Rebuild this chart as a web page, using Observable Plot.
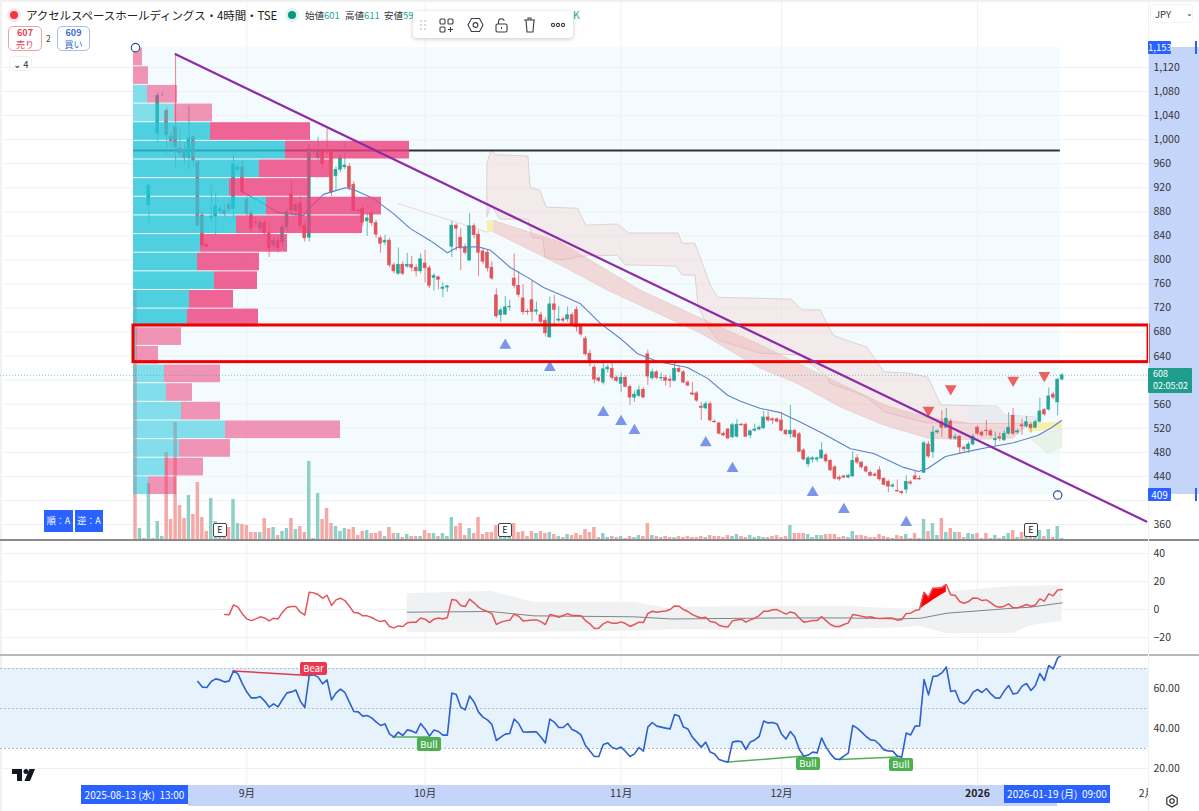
<!DOCTYPE html>
<html lang="ja"><head><meta charset="utf-8">
<script src="https://cdn.jsdelivr.net/npm/d3@7"></script>
<script src="https://cdn.jsdelivr.net/npm/@observablehq/plot@0.6"></script>
<style>
html,body{margin:0;padding:0;background:#fff;overflow:hidden}
#chart{position:relative;width:1199px;height:811px;overflow:hidden;font-family:"Noto Sans CJK JP","Noto Sans",sans-serif;color:#131722}
.a{position:absolute;box-sizing:border-box;white-space:nowrap}
.e{width:14px;height:14px;background:#fff;border:1.3px solid #444;border-radius:2px;font-size:9px;line-height:11px;text-align:center;top:523px;color:#222}
</style></head><body><div id="chart"></div>
<script>
// ---------- candles (JPY, one value per 4h bar) ----------
const open=[null,null,null,891,null,1010,1075,1048,1005,1020,
985,982,969,1004,962,874,825,869,872,881,
882,891,885,950,954,900,877,862,852,861,
844,824,832,829,854,909,881,894,857,837,
981,970,979,982,979,939,950,954,955,925,
882,885,864,877,861,836,829,832,791,777,
792,789,792,787,781,794,786,770,771,752,
754,822,857,837,821,799,856,842,814,812,
787,741,708,709,721,769,757,736,714,733,
714,708,699,671,726,699,701,701,708,717,
689,669,644,621,603,596,618,619,604,594,
604,589,571,574,584,643,603,613,603,604,
601,599,619,613,596,578,578,556,553,560,
531,528,511,518,505,506,526,526,508,516,
518,520,538,535,535,533,516,510,516,510,
483,460,468,468,470,475,466,455,438,440,
438,440,470,463,455,446,443,450,436,431,
423,416,414,418,430,440,436,446,493,480,
513,530,521,531,503,506,488,485,493,521,
513,516,515,500,505,500,511,541,513,525,
523,526,521,531,550,551,576,563,601];
const close=[null,null,null,924,null,1073,1075,1007,997,987,
977,969,1002,965,857,824,822,872,889,884,
876,884,959,954,914,877,852,861,861,844,
819,832,819,854,879,882,891,857,836,985,
983,979,960,979,912,950,969,957,920,882,
881,862,869,861,842,827,832,791,781,792,
777,792,787,781,801,786,757,773,767,754,
756,857,852,819,812,856,841,812,797,786,
769,706,716,721,722,757,742,713,713,713,
716,697,678,726,717,701,699,708,693,688,
676,643,628,601,599,618,621,604,599,604,
589,571,576,583,571,606,613,604,604,599,
599,619,614,596,591,576,566,554,560,533,
530,511,508,503,525,526,525,506,515,518,
521,538,533,533,531,516,510,516,505,481,
468,470,470,470,483,465,450,436,435,438,
441,466,463,455,448,441,441,435,426,423,
425,415,412,431,428,435,435,495,473,513,
515,521,536,503,505,488,485,493,506,511,
508,515,508,502,503,511,521,511,515,523,
530,520,530,548,543,573,571,601,608];
const high=[null,null,null,924,null,1078,1078,1053,1012,1142,
1020,995,1056,1007,965,880,826,924,910,890,
892,900,974,960,965,905,882,870,866,866,
861,838,836,860,885,932,900,905,862,992,
986,1004,985,1018,985,955,975,994,960,930,
886,890,877,882,866,840,841,836,795,820,
797,811,806,792,810,816,790,777,773,762,
758,864,860,852,826,877,860,848,820,817,
797,752,720,739,733,810,781,759,718,765,
730,713,704,738,741,722,705,722,712,722,
693,673,650,625,605,632,625,632,607,612,
607,592,582,590,588,650,618,616,612,608,
606,628,624,616,599,596,581,563,564,564,
534,530,514,520,528,535,528,529,517,527,
524,548,547,537,537,546,518,558,518,513,
486,473,473,472,496,478,468,458,441,442,
444,481,476,465,458,449,446,456,438,434,
428,434,416,441,433,448,441,498,498,523,
517,549,553,535,510,508,491,497,510,524,
516,533,518,514,512,516,546,553,518,535,
540,530,533,570,553,587,580,603,611];
const low=[null,null,null,861,null,994,1072,974,985,954,
970,960,949,955,855,821,820,861,841,875,
870,878,869,945,907,872,845,855,845,840,
804,818,812,820,848,875,872,850,830,830,
975,965,950,975,905,915,945,950,915,876,
876,855,839,856,836,811,824,787,777,775,
774,786,780,772,777,762,752,748,750,737,
746,804,815,782,808,797,835,772,792,780,
766,703,696,707,715,752,737,708,708,697,
708,692,672,671,690,695,695,696,690,680,
672,640,622,594,596,592,612,600,596,579,
587,558,563,571,570,591,600,601,598,590,
587,597,612,594,589,574,563,533,551,530,
528,509,506,501,503,504,523,505,503,514,
516,518,530,526,529,514,508,503,503,480,
466,455,462,463,468,462,448,434,432,436,
436,438,460,452,446,439,439,432,424,413,
421,413,409,411,425,433,433,446,470,470,
510,505,520,500,500,478,481,478,491,508,
505,507,505,490,498,498,509,508,510,508,
520,512,519,529,540,549,568,541,599];
const volume=[250,12,2,57,2,19,4,88,21,118,
35,22,45,26,58,23,9,42,19,13,
7,13,41,17,16,15,8,8,8,22,
12,13,5,9,12,22,11,14,8,79,
2,47,21,32,17,14,9,12,11,13,
5,9,10,7,7,9,4,13,7,7,
3,6,4,4,4,10,7,7,4,7,
4,23,14,17,5,12,7,23,6,8,
8,15,10,10,8,17,8,9,4,9,
7,9,7,8,6,4,3,6,5,7,
5,11,8,13,3,7,3,4,3,4,
2,4,3,5,4,17,5,4,3,4,
3,3,4,3,4,3,3,4,3,5,
4,4,3,5,4,6,4,3,5,3,
4,3,3,4,5,3,4,15,7,7,
7,6,3,5,5,6,6,6,3,4,
3,9,5,5,4,3,3,6,4,3,
2,5,4,6,2,7,2,21,9,17,
5,22,8,12,8,8,3,7,6,7,
2,7,2,5,2,4,7,10,3,8,
5,5,5,10,4,11,3,14,2];
const maBar=[23.6,28.7,31.9,34.1,37.7,39.7,42.2,44.4,47.1,48.9,53.4,57.9,61.7,66.2,70,72.3,76.8,79.7,84.2,88,91.6,95.4,99.9,104.4,108.9,112.7,117.2,123.9,128.4,132.9,135.8,140.3,144.8,149.3,154.4,160.5,165.7,172.4,175.8,177.8,181.8,185.9,191.2,197.1,202.5,205.4,207.9];
const maPrice=[915,894,879,877,874,891,909,914,920,917,902,877,852,832,812,821,822,816,787,771,754,742,727,694,669,644,631,621,603,575,565,553,546,530,511,486,478,455,448,453,473,480,488,496,508,520,533];
// ---------- cloud edges ----------
const cloudTopBar=[79,79.9,81,88.2,88.7,90.9,92.3,99.4,101.2,108.2,110.9,121.9,122.8,125.7,129.3,130.9,147.3,149.7,153.8,156.7,159.6,164.3,168.1,173.7,178,180.9,193.5,195.3,202,202.9];
const cloudTopPrice=[960,982,974,972,920,915,887,885,857,859,844,844,827,827,754,737,734,716,716,674,666,654,613,611,604,558,556,541,538,528];
const cloudBotBar=[79,79.9,81.9,88.2,89.1,91.6,92,95.4,101.2,108.2,110,121.4,122.8,125.7,126.4,128.8,130.9,140.3,149.3,155.6,156,162.1,164.3,168.4,177.8,186.8,194.2,200.9,202.9,202.9];
const cloudBotPrice=[871,891,867,867,837,834,804,799,806,807,791,789,774,774,721,686,666,644,641,603,594,578,571,546,528,528,528,528,528,528];
const bandTopBar=[80.4,95.4,113.4,126.8,140.3,155.6,168.4,171.7,177.8,186.8,194.2,200.4];
const bandTopPrice=[865,829,749,703,658,603,558,550,538,528,528,528];
const bandBotBar=[80.4,95.4,106,126.8,140.3,148.6,158.2,167.9,177.8,186.8,197.1,200.4];
const bandBotPrice=[846,791,749,678,619,594,555,525,503,500,503,525];
const grayBar=[186.8,193.5,195.3,202,202.9];
const grayTop=[556,556,541,538,528];
const grayBot=[528,528,528,528,528];
const yellowBar=[200.4,204,208];
const yellowTop=[528,529,530];
const yellowBot=[513,516,520];
const yellowStartBar=[79,80.4];
const yellowStartTop=[865,865];
const yellowStartBot=[846,846];
const greenBar=[200.9,204.7,208];
const greenTop=[504,512,520];
const greenBot=[503,478,488];
const faintBar=[58.8,79];
const faintPrice=[894,846];
// ---------- volume profile (top row first) ----------
const profileTop=1153, profileStep=31;
const profileBuy=[0,0,14,41,77,152,126,96,133,103,67,64,81,56,54,3,3,31,33,48,92,46,32,15];
const profileSell=[9,15,30,38,100,124,71,81,115,126,87,62,43,44,71,45,22,56,26,39,115,51,38,28];
const lightRows=[0,1,2,3,15,16,17,18,19,20,21,22,23];
// ---------- signals ----------
const buyBar=[83,93,105,109,112,128,134,152,159,173];
const buyPrice=[658,621,546,531,516,496,453,413,385,363];
const sellBar=[178,183,197,204];
const sellPrice=[550,586,600,608];
const trendBar=[9,226.9], trendPrice=[1142,365];
const levelPrice=982, lastPrice=608;
const boxBar=[-0.45,227.4], boxPrice=[630,691];
const anchorBar=[0,207], anchorPrice=[1153,409];
// ---------- ticks ----------
const priceTicks=d3.range(360,1121,40);
const priceLabels=priceTicks.filter(t=>t!==400&&t!==600); // those two sit behind the price tags
const cmfTicks=[40,20,0,-20];
const rsiTicks=[60,40,20];
const monthBars=[25,65,109,145,227], monthLabels=["9月","10月","11月","12月","2月"];
const yearBar=189, yearLabel="2026";
// ---------- CMF ----------
const cmfStart=20;
const cmf=[-3.6,-3.8,3.3,1.7,-3.1,-6.7,-7.9,-6.7,-5.2,-6,
-8.1,-6.2,-6.7,-1.9,1.4,2.1,2.1,-1.9,-4,12.4,
11.9,10.7,8.1,10.2,2.9,6.9,8.1,6.4,2.4,-2.1,
-2.4,-4.5,-4.5,-5.7,-7.4,-8.6,-7.9,-12.1,-13.1,-11.7,
-12.1,-9.5,-9,-9,-6,-6.9,-9.3,-6.9,-6,-6.7,
-5.7,7.1,6.7,2.9,2.1,7.4,4.8,1.7,-.2,-1.4,
-2.9,-10.7,-9,-8.1,-7.6,-3.3,-4.8,-8.1,-7.9,-7.4,
-7.4,-8.6,-10.7,-3.6,-4.3,-5.5,-4.3,-2.9,-4.3,-4.3,
-4.5,-7.9,-10.2,-13.6,-13.3,-10.2,-8.6,-9.8,-9.8,-8.8,
-10,-12.1,-10.7,-9,-9.3,-2.9,-1.2,-1.9,-1.4,-1,
0,2.6,2.4,0,-1.4,
-3.6,-5,-6,-5.5,-8.6,-9,-11.2,-12.1,-12.4,-8.1,
-7.4,-6.9,-9,-7.4,-6.2,-4.3,-1.2,-1.2,-.2,0,
-1.7,-3.3,-1.7,-2.6,-6,-9,-8.6,-7.9,-7.9,-5,
-7.9,-10.7,-12.1,-12.1,-10.7,-9.5,-3.6,-4,-4.8,-5.5,
-5.2,-6,-6.4,-6.2,-6,-6.2,-7.6,-7.1,-2.9,-2.6,
-.7,0,12.4,8.8,15.2,15.2,15.7,17.9,10.5,10,
5.7,4.5,5.7,8.3,8.1,6.4,6.9,4.8,2.4,1.7,
2.4,4,1.2,1.2,2.4,3.6,2.4,3.3,7.6,6,
11.2,9.8,14,14.3];
const cmfBandBar=[61,79.7,89.4,111.9,120,122.3,144.8,159.7,170.9,176.2,182.2,197.2,201,208];
const cmfSignal=[-1.9,-1.4,-4.5,-5.2,-6.7,-6.7,-6,-6,-6.7,-6.2,-2.6,1,1.7,4.8];
const cmfUpper=[11.2,13.1,5.2,5.2,.5,1.7,2.1,2.1,.5,.5,12.4,16.7,16.7,17.1];
const cmfLower=[-16.2,-16.2,-16.2,-15.5,-14.5,-14.5,-15,-14,-13.1,-12.1,-17.4,-16.9,-11.4,-8.6];
const breachBar=[176,177,178,179,180,181,182];
const breachBase=[0,2.4,4.4,6.6,8.6,10.6,12.4];
const breachCmf=[0,12.4,8.8,15.2,15.2,15.7,17.9];
// ---------- RSI ----------
const rsiStart=14;
const rsi=[63.5,60.7,60.5,63.5,64.8,64.3,63.3,63.7,68.8,67.3,
62.3,58.2,55.3,55.3,56,53.7,50.7,52.3,50.8,54.5,
57.8,58.3,59.2,53.7,50.5,66.5,66.8,65.7,62.3,64.3,
54.3,57.7,59.7,58,53.2,48.5,48.3,46.2,46.5,45.3,
43.3,41.5,42.3,37.3,35.7,38.2,36.5,39.3,38.8,37.8,
42.5,39.8,36.2,39.2,38.5,36.7,36.7,57.7,57,50.7,
49.3,56.3,53.3,48.2,45.7,44.3,42,34,35.7,37.2,
37.5,44.7,42.5,38.3,38.2,38.3,38.3,35.7,32.8,44.7,
43.2,40.5,40.5,42.5,39.5,38.5,36.8,31.5,28.7,26,
26,32,32.8,30.5,29.8,30.7,28.5,26,27.3,30.5,
28.7,40.7,43,41.2,40.7,40.2,39.8,47,46.2,40.7,
39.7,35.7,33.2,30.7,33.2,28.2,27.3,24.5,23.7,23.2,33.2,
33.7,33.5,29.5,33.3,34.3,36,43.7,42.8,43,42.3,
37.3,34.7,38.5,35.7,29.5,26.2,26.7,28.2,27.8,35.3,
30.7,27.3,24.8,24.5,26.2,27.7,41.5,40.2,38.2,36,
34.3,34,32,29.3,28.8,28.7,26.2,25.7,37.7,36.8,
41.2,41.3,64.5,56.8,66,66.3,67.8,70.7,58.5,59,
53.5,52.3,54.3,58.2,59.5,58,60,57.3,55.3,55.2,
58.7,61.5,57.2,57.8,61.2,62.5,59,61.5,67.5,64,
71.5,69.8,75.3,76.8];
const rsiLevels=[70,50,30];
const bearBar=[21.9,38.9], bearRsi=[68.8,66.5];
const bull1Bar=[57.8,65.8], bull1Rsi=[35.7,35.7];
const bull2Bar=[133,150], bull2Rsi=[23.2,26.2];
const bull3Bar=[158,171], bull3Rsi=[24.5,25.7];

// ---------- assemble rows ----------
const UP="#26a69a", DOWN="#e0555a";
const bars=d3.range(open.length).map(i=>({i,open:open[i],high:high[i],low:low[i],close:close[i],vol:volume[i],
  color:close[i]==null?null:(close[i]>=open[i]?UP:DOWN)}));
const candles=bars.filter(d=>d.open!=null);
const volRows=bars.map(d=>({i:d.i,vol:d.vol,color:d.color?(d.color===UP?"#8fd0c6":"#f5a8a6"):(d.i===0?"#f5a8a6":"#8fd0c6")}));
const pts=(xs,ys)=>xs.map((x,k)=>({x,y:ys[k]}));
const twoEdge=(a,b,c,d)=>a.map((_,k)=>({x1:a[k],y1:b[k],x2:c[k],y2:d[k]}));
const rng=(xs,t,b)=>xs.map((x,k)=>({x,y1:t[k],y2:b[k]}));
const profile=profileBuy.map((b,k)=>({top:profileTop-profileStep*k,bot:profileTop-profileStep*(k+1),buy:b,sell:profileSell[k],light:lightRows.includes(k)}));
const cmfRows=cmf.map((v,k)=>({x:cmfStart+k,y:v}));
const rsiRows=rsi.map((v,k)=>({x:rsiStart+k,y:v}));

const FONT='"Noto Sans CJK JP","Noto Sans",sans-serif';
const style={position:"absolute",left:0,top:0,background:"transparent",overflow:"visible",fontFamily:FONT};
const base={width:1199,height:811,marginLeft:0,marginRight:51,style,x:{domain:[0,208],range:[135,1061.64],axis:null}};
const mainY={marginTop:0,marginBottom:271,y:{domain:[333.4,1231.4],axis:null}};
const gridStroke="#eff1f5";
const gridBars=[25,65,109,145,189];
const rootEl=document.getElementById("chart");
const add=o=>rootEl.appendChild(o);

// helper for HTML chrome
function box(css,html=""){const d=document.createElement("div");d.className="a";d.style.cssText=css;d.innerHTML=html;rootEl.appendChild(d);return d;}

// under-layer chrome
box("left:1148px;top:47px;width:51px;height:447px;background:#c5d5fa");
box("left:188px;top:785px;width:869px;height:21px;background:#c5d5fa");
box("left:0;top:0;width:1199px;height:2px;background:#f0f0f0");
box("left:0;top:0;width:2px;height:811px;background:#f2f2f2");

// main price layer
add(Plot.plot({...base,...mainY,color:{type:"identity"},marks:[
  Plot.rect([0],{x1:-0.45,x2:207.6,y1:409,y2:1153,fill:"#f4fbfe"}),
  Plot.gridY(priceTicks,{stroke:gridStroke,strokeOpacity:1}),
  Plot.gridX(gridBars,{stroke:gridStroke,strokeOpacity:1}),
  Plot.area(twoEdge(cloudTopBar,cloudTopPrice,cloudBotBar,cloudBotPrice),{x1:"x1",y1:"y1",x2:"x2",y2:"y2",fill:"#efd9d8",fillOpacity:.5,stroke:"#d3c4c4",strokeWidth:.7}),
  Plot.area(twoEdge(bandTopBar,bandTopPrice,bandBotBar,bandBotPrice),{x1:"x1",y1:"y1",x2:"x2",y2:"y2",fill:"#eda9a9",fillOpacity:.42,stroke:"#e2bcbc",strokeWidth:.5}),
  Plot.areaY(rng(grayBar,grayTop,grayBot),{x:"x",y1:"y1",y2:"y2",fill:"#e9ebee",fillOpacity:.9}),
  Plot.areaY(rng(yellowBar,yellowTop,yellowBot),{x:"x",y1:"y1",y2:"y2",fill:"#f6efae"}),
  Plot.areaY(rng(yellowStartBar,yellowStartTop,yellowStartBot),{x:"x",y1:"y1",y2:"y2",fill:"#f6efae"}),
  Plot.areaY(rng(greenBar,greenTop,greenBot),{x:"x",y1:"y1",y2:"y2",fill:"#e7f3e9",stroke:"#d6e7da",strokeWidth:.6}),
  Plot.line(pts(faintBar,faintPrice),{x:"x",y:"y",stroke:"#ecd6cf",strokeWidth:1}),
  Plot.ruleY([levelPrice],{x1:-0.45,x2:207.6,stroke:"#2f3236",strokeWidth:2}),
  Plot.ruleX(candles,{x:"i",y1:"low",y2:"high",stroke:"color",strokeWidth:.9,strokeOpacity:.8}),
  Plot.rect(candles,{x1:d=>d.i-.33,x2:d=>d.i+.33,y1:"open",y2:"close",fill:"color",stroke:"color",strokeWidth:.6}),
  Plot.line(pts(maBar,maPrice),{x:"x",y:"y",stroke:"#5b82c6",strokeWidth:1.1}),
  Plot.dot(pts(buyBar,buyPrice),{x:"x",y:"y",symbol:"triangle",r:4.4,fill:"#7b95ea"}),
  Plot.dot(pts(sellBar,sellPrice),{x:"x",y:"y",symbol:"triangle",r:4.4,rotate:180,fill:"#ef615c"})
]}));

// volume layer
add(Plot.plot({...base,marginTop:0,marginBottom:271,y:{domain:[0,540],axis:null},color:{type:"identity"},marks:[
  Plot.rect(volRows,{x1:d=>d.i-.39,x2:d=>d.i+.39,y1:0,y2:"vol",fill:"color"})
]}));

// volume profile layer: its own horizontal volume scale
add(Plot.plot({...base,...mainY,x:{domain:[0,1066],range:[133,1199],axis:null},marks:[
  Plot.rect(profile,{filter:d=>d.buy>0,x1:0,x2:"buy",y1:"bot",y2:"top",insetTop:.5,insetBottom:.5,fill:"#26c6da",fillOpacity:d=>d.light?.55:.8}),
  Plot.rect(profile,{x1:"buy",x2:d=>d.buy+d.sell,y1:"bot",y2:"top",insetTop:.5,insetBottom:.5,fill:"#ec407a",fillOpacity:d=>d.light?.55:.8})
]}));

// annotations + price axis
add(Plot.plot({...base,...mainY,marks:[
  Plot.ruleY([lastPrice],{x1:-30.3,x2:227.4,stroke:"#26a69a",strokeOpacity:.55,strokeDasharray:"1,2"}),
  Plot.rect([0],{x1:boxBar[0],x2:boxBar[1],y1:boxPrice[0],y2:boxPrice[1],fill:"none",stroke:"#ee0000",strokeWidth:3}),
  Plot.line(pts(trendBar,trendPrice),{x:"x",y:"y",stroke:"#8e2ba6",strokeWidth:2.2}),
  Plot.dot(pts(anchorBar,anchorPrice),{x:"x",y:"y",r:4.2,fill:"#fff",stroke:"#2b5296",strokeWidth:1.2}),
  Plot.axisY(priceLabels,{anchor:"right",tickSize:0,tickPadding:5,label:null,tickFormat:d3.format(","),fontSize:10.5,fill:"#333"})
]}));

// CMF panel
add(Plot.plot({...base,marginTop:541,marginBottom:158,y:{domain:[-31.4,48.6],axis:null},marks:[
  Plot.gridY(cmfTicks,{stroke:gridStroke,strokeOpacity:1}),
  Plot.gridX(gridBars,{stroke:gridStroke,strokeOpacity:1}),
  Plot.areaY(rng(cmfBandBar,cmfUpper,cmfLower),{x:"x",y1:"y1",y2:"y2",fill:"#f0f1f2"}),
  Plot.line(pts(cmfBandBar,cmfSignal),{x:"x",y:"y",stroke:"#808489",strokeWidth:1}),
  Plot.areaY(rng(breachBar,breachCmf,breachBase),{x:"x",y1:"y1",y2:"y2",fill:"#ff0000"}),
  Plot.line(cmfRows,{x:"x",y:"y",stroke:"#e4545c",strokeWidth:1.5}),
  Plot.axisY(cmfTicks,{anchor:"right",tickSize:0,tickPadding:5,label:null,fontSize:10.5,fill:"#333"})
]}));

// RSI panel + time axis
add(Plot.plot({...base,marginTop:655,marginBottom:25,y:{domain:[11,76.5],axis:null},marks:[
  Plot.rect([0],{x1:-30.3,x2:227.4,y1:30,y2:70,fill:"#e6f3fd"}),
  Plot.gridY(rsiTicks,{stroke:gridStroke,strokeOpacity:1}),
  Plot.gridX(gridBars,{stroke:gridStroke,strokeOpacity:1}),
  Plot.ruleY(rsiLevels,{x1:-30.3,x2:227.4,stroke:"#b4b9c4",strokeDasharray:"2,2"}),
  Plot.line(pts(bearBar,bearRsi),{x:"x",y:"y",stroke:"#e0394f",strokeWidth:1.5}),
  Plot.line(pts(bull1Bar,bull1Rsi),{x:"x",y:"y",stroke:"#55ad5b",strokeWidth:1.5}),
  Plot.line(pts(bull2Bar,bull2Rsi),{x:"x",y:"y",stroke:"#55ad5b",strokeWidth:1.5}),
  Plot.line(pts(bull3Bar,bull3Rsi),{x:"x",y:"y",stroke:"#55ad5b",strokeWidth:1.5}),
  Plot.line(rsiRows,{x:"x",y:"y",stroke:"#2f60d0",strokeWidth:1.6}),
  Plot.axisY(rsiTicks,{anchor:"right",tickSize:0,tickPadding:5,label:null,tickFormat:d3.format(".2f"),fontSize:10.5,fill:"#333"}),
  Plot.axisX(monthBars,{anchor:"bottom",tickSize:0,tickPadding:3,label:null,tickFormat:(d)=>monthLabels[monthBars.indexOf(d)],fontSize:10.5,fill:"#333"}),
  Plot.axisX([yearBar],{anchor:"bottom",tickSize:0,tickPadding:3,label:null,tickFormat:()=>yearLabel,fontSize:10.5,fontWeight:700,fill:"#222"})
]}));

// over-layer chrome: panel dividers, tags, labels
box("left:0;top:539px;width:1199px;height:2px;background:#8a8a8a");
box("left:0;top:653.5px;width:1199px;height:2px;background:#b9b9b9");
box("left:1148px;top:786px;width:51px;height:25px;background:#fff;border-left:1px solid #eee");
box("left:1148px;top:0;width:1px;height:786px;background:#f0f1f3");
box("left:81px;top:785px;width:107px;height:19px;background:#2962ff;color:#fff;font-size:10px;line-height:19px;text-align:center","2025-08-13 (水)&nbsp; 13:00");
box("left:1004px;top:785px;width:106px;height:18px;background:#2962ff;color:#fff;font-size:10px;line-height:18px;text-align:center","2026-01-19 (月)&nbsp; 09:00");
box("left:1148px;top:41px;width:23px;height:13px;background:#2962ff;color:#fff;font-size:9.5px;line-height:13px;text-align:center;border-radius:1px","1,153");
box("left:1148px;top:488px;width:23px;height:13px;background:#2962ff;color:#fff;font-size:10px;line-height:13px;text-align:center;border-radius:1px","409");
box("left:1195px;top:41px;width:2px;height:13px;background:#2962ff");
box("left:1195px;top:488px;width:2px;height:13px;background:#2962ff");
box("left:1148px;top:368px;width:44px;height:25px;background:#1e9c8c;color:#fff;font-size:9px;line-height:12px;padding:0 0 0 5px;border-radius:1px","<div style='height:12px'>608</div><div style='height:12px'>02:05:02</div>");
box("left:1150px;top:4px;width:43px;height:19px;border:1px solid #f3f3f3;border-radius:3px;font-size:9.5px;line-height:18px;padding-left:4px;color:#333","JPY");
box("left:1186px;top:4px;font-size:8px;line-height:18px;color:#333","⌄");
for(const [x,w,t] of [[45,29,"順：A"],[76,28,"逆：A"]]) box(`left:${x-1}px;top:510px;width:${w}px;height:22px;background:#2962ff;color:#fff;font-size:9px;line-height:22px;text-align:center`,t);
for(const x of [213,498,1024]) box(`left:${x}px`,"E").classList.add("e");
box("left:300px;top:662px;width:27px;height:13px;background:#ec3750;color:#fff;font-size:9.5px;line-height:13px;text-align:center;border-radius:2px","Bear");
box("left:417px;top:737px;width:24px;height:14px;background:#4caf50;color:#fff;font-size:9.5px;line-height:14px;text-align:center;border-radius:2px","Bull");
box("left:796px;top:757px;width:24px;height:13px;background:#4caf50;color:#fff;font-size:9.5px;line-height:13px;text-align:center;border-radius:2px","Bull");
box("left:889px;top:758px;width:24px;height:13px;background:#4caf50;color:#fff;font-size:9.5px;line-height:13px;text-align:center;border-radius:2px","Bull");
// header
box("left:10px;top:11px;width:8px;height:8px;border-radius:50%;background:#f23645;box-shadow:0 0 0 3px #fde7e9");
box("left:26px;top:6px;font-size:11.5px;line-height:18px;color:#222;letter-spacing:-.1px","アクセルスペースホールディングス・4時間・TSE");
box("left:288px;top:11px;width:8px;height:8px;border-radius:50%;background:#089981;box-shadow:0 0 0 3px #e0f3ef");
box("left:305px;top:7px;font-size:9.5px;line-height:16px;color:#333","始値<span style='color:#26a69a'>601</span>");
box("left:345px;top:7px;font-size:9.5px;line-height:16px;color:#333","高値<span style='color:#26a69a'>611</span>");
box("left:384px;top:7px;font-size:9.5px;line-height:16px;color:#333","安値<span style='color:#26a69a'>59</span>");
box("left:573px;top:7px;font-size:10.5px;line-height:16px;color:#26a69a","K");
box("left:8px;top:26px;width:34px;height:25px;border:1px solid #e7a3a8;border-radius:5px;text-align:center;font-size:9px;color:#e0455a;padding-top:0","<div style='height:12px;line-height:12px'><b>607</b></div><div style='height:11px;line-height:11px'>売り</div>");
box("left:46px;top:33px;font-size:8.5px;line-height:11px;color:#444","2");
box("left:57px;top:26px;width:33px;height:25px;border:1px solid #a9bde8;border-radius:5px;text-align:center;font-size:9px;color:#3a6bd6;padding-top:0","<div style='height:12px;line-height:12px'><b>609</b></div><div style='height:11px;line-height:11px'>買い</div>");
box("left:9px;top:56px;width:23px;height:15px;border:1px solid #f1f1f1;border-radius:3px;font-size:9.5px;line-height:14px;padding-left:3px;color:#333","⌄&nbsp;4");
// drawing toolbar
box("left:413px;top:11px;width:160px;height:27px;background:#fff;border-radius:4px;box-shadow:0 1px 4px rgba(0,0,0,.22)",
`<svg width="160" height="27" fill="none" stroke="#3a3d45" stroke-width="1.1">
<g fill="#c9ccd2" stroke="none"><circle cx="8" cy="10" r="1"/><circle cx="12" cy="10" r="1"/><circle cx="8" cy="14" r="1"/><circle cx="12" cy="14" r="1"/><circle cx="8" cy="18" r="1"/><circle cx="12" cy="18" r="1"/></g>
<rect x="27" y="8" width="5" height="5" rx="1"/><rect x="35" y="8" width="5" height="5" rx="1"/><rect x="27" y="16" width="5" height="5" rx="1"/><path d="M37.5 16v5M35 18.5h5"/>
<path d="M55 14l3.5-6.5h8l3.5 6.5-3.5 6.5h-8z"/><circle cx="62.5" cy="14" r="2.4"/>
<rect x="83" y="13" width="11" height="8" rx="1.5"/><path d="M85.5 13v-2.5a3 3 0 0 1 5.8-.8"/><path d="M88.5 16v2"/>
<path d="M111 9h11M113 9l1 12h6l1-12M115 9V7h3v2"/>
<circle cx="140" cy="14" r="1.6"/><circle cx="145" cy="14" r="1.6"/><circle cx="150" cy="14" r="1.6"/></svg>`);
// logo + gear
box("left:12px;top:763px",`<svg width="24" height="13"><path d="M0 0h10v12H5V5H0z" fill="#131722"/><circle cx="14" cy="2.6" r="2.5" fill="#131722"/><path d="M17.5 0H23l-5 12h-5.6z" fill="#131722"/></svg>`);
box("left:1165px;top:789px",`<svg width="14" height="14" fill="none" stroke="#222" stroke-width="1.1"><path d="M7 1l5.2 3v6L7 13 1.8 10V4z"/><circle cx="7" cy="7" r="2.2"/></svg>`);
</script></body></html>
